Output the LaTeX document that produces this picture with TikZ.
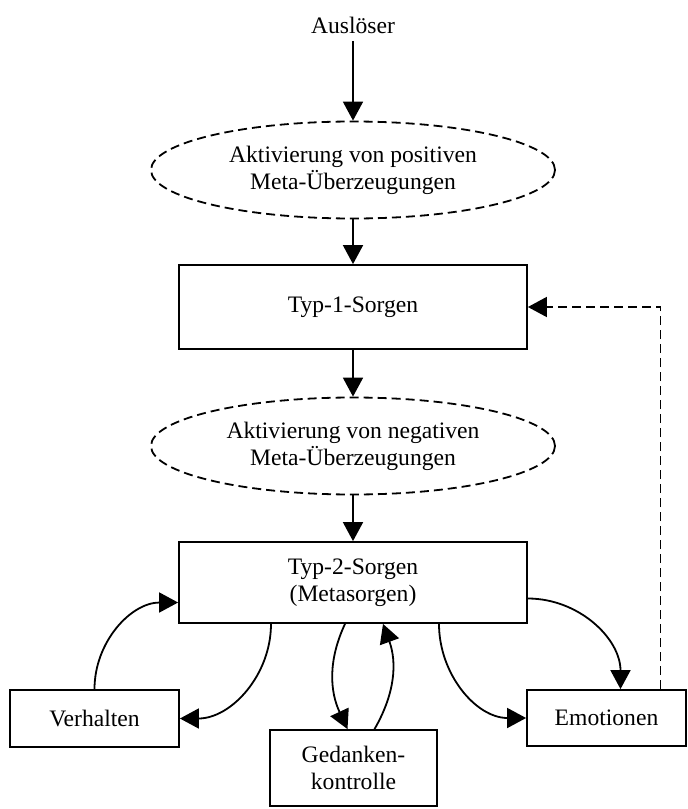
\documentclass[tikz,border=0pt]{standalone}
\usepackage{fontspec}
\setmainfont{Liberation Serif}
\usetikzlibrary{arrows.meta,shapes.geometric}

\begin{document}
\begin{tikzpicture}[x=0.5pt, y=-0.5pt, line width=0.9pt,
  font=\fontsize{11.8}{13.5}\selectfont,
  >={Triangle[length=9.5pt,width=10pt]},
  sorgen/.style={draw, rectangle, minimum width=174pt, align=center},
  meta/.style={draw, ellipse, dash pattern=on 4.5pt off 2.5pt, minimum width=202pt, minimum height=48.5pt, align=center},
  klein/.style={draw, rectangle, align=center},
  feedback/.style={->, dash pattern=on 4.5pt off 2.5pt}]
  \useasboundingbox (0,0) rectangle (688,809);

  % main chain
  \node (ausl) at (353,25) {Ausl\"oser};
  \node[meta] (posmeta) at (353,170) {Aktivierung von positiven\\Meta-\"Uberzeugungen};
  \node[sorgen, minimum height=42pt] (typ1) at (353,307) {Typ-1-Sorgen};
  \node[meta] (negmeta) at (353,446) {Aktivierung von negativen\\Meta-\"Uberzeugungen};
  \node[sorgen, minimum height=40.5pt] (typ2) at (353,582.5) {Typ-2-Sorgen\\(Metasorgen)};

  % consequences
  \node[klein, minimum width=84.5pt, minimum height=28.5pt] (verh) at (94.5,718.5) {Verhalten};
  \node[klein, minimum width=83.5pt, minimum height=38pt] (gedk) at (353.5,768) {Gedanken-\\kontrolle};
  \node[klein, minimum width=79.5pt, minimum height=28pt] (emo) at (606.5,718) {Emotionen};

  \draw[->] (ausl) -- (posmeta);
  \draw[->] (posmeta) -- (typ1);
  \draw[->] (typ1) -- (negmeta);
  \draw[->] (negmeta) -- (typ2);

  % loops around Typ-2-Sorgen
  \draw[->] (verh.north) to[out=90, in=180] ([yshift=-10pt]typ2.west);
  \draw[->] ([xshift=-41pt]typ2.south) to[out=-90, in=0] (verh.east);
  \draw[->] ([xshift=-4pt]typ2.south) to[out=-115, in=115] ([xshift=-3pt]gedk.north);
  \draw[->] ([xshift=10.5pt]gedk.north) to[out=60, in=-70] ([xshift=15pt]typ2.south);
  \draw[->] ([xshift=43pt]typ2.south) to[out=-90, in=180] (emo.west);
  \draw[->] ([yshift=-8pt]typ2.east) to[out=0, in=90] ([xshift=7pt]emo.north);

  % feedback
  \draw[feedback] ([xshift=27pt]emo.north) |- (typ1.east);
\end{tikzpicture}
\end{document}
